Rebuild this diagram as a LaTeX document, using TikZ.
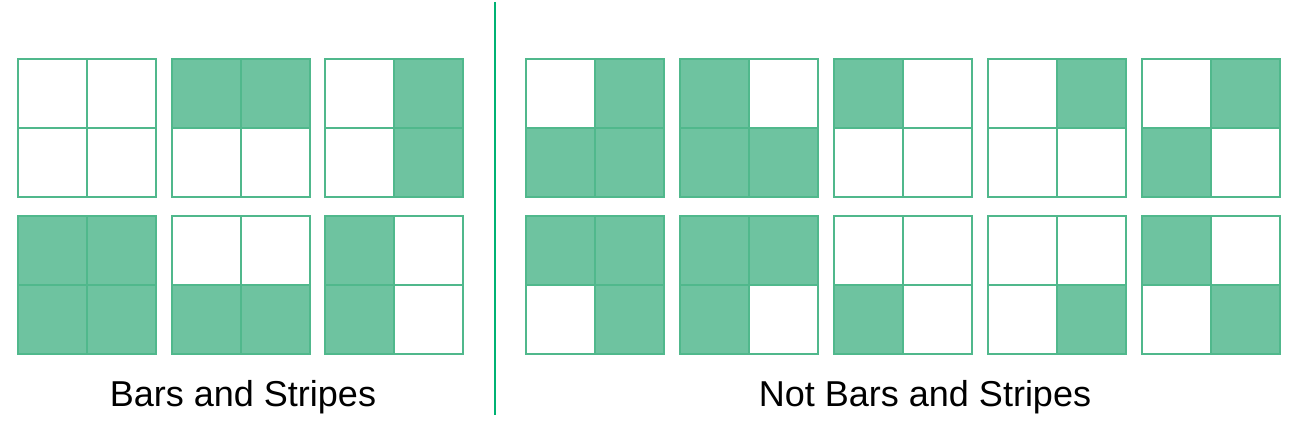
\documentclass[tikz,border=0pt]{standalone}
\usepackage{fontspec}
\setmainfont{Liberation Sans}
\definecolor{gstroke}{RGB}{80,184,140}
\definecolor{gfill}{RGB}{110,195,160}
\definecolor{divcol}{RGB}{0,178,115}
\begin{document}
\begin{tikzpicture}[x=1pt,y=-1pt,
  gridline/.style={draw=gstroke,line width=2.6pt},
  cellfill/.style={fill=gfill},
  divline/.style={draw=divcol,line width=2pt},
  caption/.style={font=\fontsize{36}{40}\selectfont,anchor=base,inner sep=0pt}]
\useasboundingbox (0,0) rectangle (1312,438);
\foreach \x/\y/\a/\b/\c/\d in {
  18/59/0/0/0/0, 172/59/1/1/0/0, 325/59/0/1/0/1,
  18/216/1/1/1/1, 172/216/0/0/1/1, 325/216/1/0/1/0,
  526/59/0/1/1/1, 680/59/1/0/1/1, 834/59/1/0/0/0, 988/59/0/1/0/0, 1142/59/0/1/1/0,
  526/216/1/1/0/1, 680/216/1/1/1/0, 834/216/0/0/1/0, 988/216/0/0/0/1, 1142/216/1/0/0/1}{
  \begin{scope}[shift={(\x,\y)}]
    \ifnum\a=1 \fill[cellfill] (0,0) rectangle (69,69);\fi
    \ifnum\b=1 \fill[cellfill] (69,0) rectangle (138,69);\fi
    \ifnum\c=1 \fill[cellfill] (0,69) rectangle (69,138);\fi
    \ifnum\d=1 \fill[cellfill] (69,69) rectangle (138,138);\fi
    \draw[gridline] (0,0) rectangle (138,138) (69,0) -- (69,138) (0,69) -- (138,69);
  \end{scope}
}
\draw[divline] (495,2) -- (495,415);
\node[caption] (leftcap) at (243,406) {Bars and Stripes};
\node[caption] (rightcap) at (925,406) {Not Bars and Stripes};
\end{tikzpicture}
\end{document}
